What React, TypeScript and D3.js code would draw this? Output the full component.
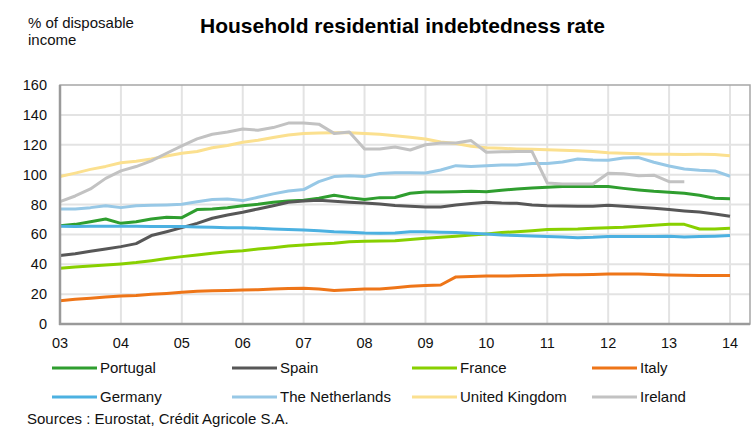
import React from "react";
import * as d3 from "d3";

const startYear = 2003;
const yearTicks = ["03", "04", "05", "06", "07", "08", "09", "10", "11", "12", "13", "14"];
const yTicks = [0, 20, 40, 60, 80, 100, 120, 140, 160];

const seriesNames = ["Portugal", "Spain", "France", "Italy", "Germany", "The Netherlands", "United Kingdom", "Ireland"];
const seriesColors = ["#2f9e2f", "#575757", "#88d000", "#ee7518", "#4cb1e1", "#97c8e6", "#fbe08f", "#c2c2c2"];

// quarterly values, 2003Q1 .. 2014Q1
const portugal = [65.8, 66.7, 68.5, 70.3, 67.4, 68.5, 70.3, 71.4, 71.2, 76.6, 77, 77.8, 79.2, 80.1, 81.5, 82.4, 82.8, 84.2, 86.2, 84.6, 83.3, 84.6, 84.7, 87.5, 88.4, 88.4, 88.6, 88.8, 88.6, 89.5, 90.4, 91.1, 91.5, 92, 92, 92, 92, 90.8, 89.7, 88.8, 88.2, 87.5, 86.2, 84.2, 83.9];
const spain = [45.8, 47.1, 48.7, 50.2, 51.8, 53.8, 59.2, 61.8, 64.5, 67.4, 70.8, 73, 74.8, 77, 79.2, 81.5, 82.4, 82.8, 82.1, 81.5, 81, 80.4, 79.3, 78.8, 78.3, 78.3, 79.7, 80.6, 81.5, 81, 80.8, 79.7, 79.2, 79, 78.8, 78.8, 79.5, 78.8, 78.1, 77.5, 76.6, 75.7, 75, 73.7, 72.1];
const france = [37.3, 38.2, 38.8, 39.5, 40.2, 41.1, 42.4, 43.8, 45.1, 46.2, 47.3, 48.4, 49.1, 50.2, 51.1, 52.2, 52.9, 53.6, 54, 55.1, 55.4, 55.6, 55.8, 56.5, 57.4, 58, 58.7, 59.6, 60.3, 61.2, 61.8, 62.5, 63.2, 63.5, 63.6, 64.1, 64.5, 64.7, 65.4, 66.1, 66.7, 66.7, 63.6, 63.6, 64.1];
const italy = [15.6, 16.5, 17.2, 18.1, 18.8, 19, 19.9, 20.5, 21.2, 21.9, 22.3, 22.5, 22.8, 23, 23.4, 23.7, 23.9, 23.4, 22.5, 23, 23.4, 23.4, 24.3, 25.2, 25.7, 26.1, 31.5, 31.8, 32.1, 32.1, 32.3, 32.4, 32.6, 32.9, 33, 33.2, 33.5, 33.5, 33.5, 33.2, 32.8, 32.6, 32.4, 32.4, 32.4];
const germany = [65.4, 65.3, 65.4, 65.5, 65.4, 65.4, 65.3, 65.3, 65.2, 65, 64.7, 64.5, 64.5, 64.1, 63.6, 63.2, 62.9, 62.5, 61.8, 61.4, 60.9, 60.7, 61, 61.8, 61.8, 61.4, 61.2, 60.7, 60.3, 59.6, 59.2, 58.9, 58.5, 58.2, 57.8, 58, 58.5, 58.5, 58.5, 58.6, 58.7, 58.3, 58.5, 58.8, 59.2];
const netherlands = [77, 77, 77.9, 79.2, 77.9, 79.2, 79.5, 79.7, 80.1, 81.9, 83.3, 83.7, 82.6, 84.8, 87.1, 89.1, 90, 95.3, 98.7, 99.3, 98.7, 100.7, 101.3, 101.3, 101.1, 103.1, 106, 105.4, 106, 106.5, 106.5, 107.4, 107.4, 108.5, 110.5, 109.8, 109.6, 111.2, 111.4, 108.3, 105.8, 103.8, 102.9, 102.5, 98.9];
const unitedKingdom = [98.7, 101, 103.5, 105.5, 108, 109, 110.5, 112.5, 114.3, 115.5, 118, 119.5, 121.7, 123, 124.8, 126.5, 127.5, 127.9, 128, 128, 127.5, 127, 126, 125, 123.9, 121.8, 120.8, 119, 118, 117.6, 117.2, 117, 116.7, 116.4, 116, 115.5, 114.7, 114.3, 114, 113.7, 113.6, 113.5, 113.6, 113.5, 112.7];
const ireland = [81.9, 85.7, 90.4, 97.5, 102.5, 105.4, 109.2, 114.3, 119.2, 123.9, 127, 128.5, 130.5, 129.7, 131.5, 134.5, 134.5, 133.8, 127.6, 128.5, 117.2, 117.2, 118.5, 116.5, 120, 121.2, 121.2, 122.8, 115, 115.3, 115.4, 115.4, 94.4, 93.7, 93.7, 93.7, 100.9, 100.6, 99.2, 99.6, 95.3, 95.3];

const seriesValues = [portugal, spain, france, italy, germany, netherlands, unitedKingdom, ireland];

const FONT = "Arial, 'Liberation Sans', Helvetica, sans-serif";

export default function App() {
  const W = 753;
  const H = 430;
  const left = 60, right = 750, top = 85, bottom = 324;
  const x = d3.scaleLinear().domain([2003, 2014]).range([left, 730]);
  const y = d3.scaleLinear().domain([0, 160]).range([bottom, top]);

  const line = d3
    .line<number>()
    .x((_, i) => x(startYear + i / 4))
    .y((d) => y(d));

  const legendCols = [52, 232, 412, 592];
  const legendRows = [368, 397];

  return (
    <svg
      width={W}
      height={H}
      style={{ position: "absolute", left: 0, top: 0, background: "#fff" }}
      fontFamily={FONT}
    >
      <text x={28} y={28} fontSize={15} fill="#111">% of disposable</text>
      <text x={28} y={45} fontSize={15} fill="#111">income</text>
      <text x={402.5} y={33} fontSize={21} fontWeight="bold" textAnchor="middle" fill="#000">
        Household residential indebtedness rate
      </text>

      {/* grid */}
      {yTicks.slice(1, -1).map((t) => (
        <line key={"gy" + t} x1={left} x2={right} y1={y(t)} y2={y(t)} stroke="#e3e3e3" strokeWidth={2} />
      ))}
      {yearTicks.slice(1).map((t, i) => (
        <line key={"gx" + t} x1={x(2004 + i)} x2={x(2004 + i)} y1={top} y2={bottom} stroke="#e3e3e3" strokeWidth={2} />
      ))}

      {/* series */}
      {seriesValues.map((vals, k) => (
        <path
          key={seriesNames[k]}
          d={line(vals) || ""}
          fill="none"
          stroke={seriesColors[k]}
          strokeWidth={3}
          strokeLinejoin="round"
        />
      ))}

      {/* frame */}
      <rect x={left} y={top} width={right - left} height={bottom - top} fill="none" stroke="#a6a6a6" strokeWidth={1.5} />
      <line x1={left} x2={left} y1={top} y2={bottom + 1} stroke="#9a9a9a" strokeWidth={2.5} />
      <line x1={left - 1} x2={right} y1={bottom} y2={bottom} stroke="#9a9a9a" strokeWidth={2.5} />

      {/* y tick labels */}
      {yTicks.map((t) => (
        <text key={"yl" + t} x={47} y={y(t)} dy="0.35em" fontSize={14.5} textAnchor="end" fill="#111">
          {t}
        </text>
      ))}
      {/* x tick labels */}
      {yearTicks.map((t, i) => (
        <text key={"xl" + t} x={x(2003 + i)} y={348} fontSize={14.5} textAnchor="middle" fill="#111">
          {t}
        </text>
      ))}

      {/* legend */}
      {seriesNames.map((name, k) => {
        const cx = legendCols[k % 4];
        const cy = legendRows[Math.floor(k / 4)];
        return (
          <g key={"lg" + name}>
            <line x1={cx} x2={cx + 45} y1={cy} y2={cy} stroke={seriesColors[k]} strokeWidth={3} />
            <text x={cx + 48} y={cy} dy="0.35em" fontSize={15} fill="#111">
              {name}
            </text>
          </g>
        );
      })}

      <text x={27} y={424} fontSize={15} fill="#111">Sources : Eurostat, Crédit Agricole S.A.</text>
    </svg>
  );
}
